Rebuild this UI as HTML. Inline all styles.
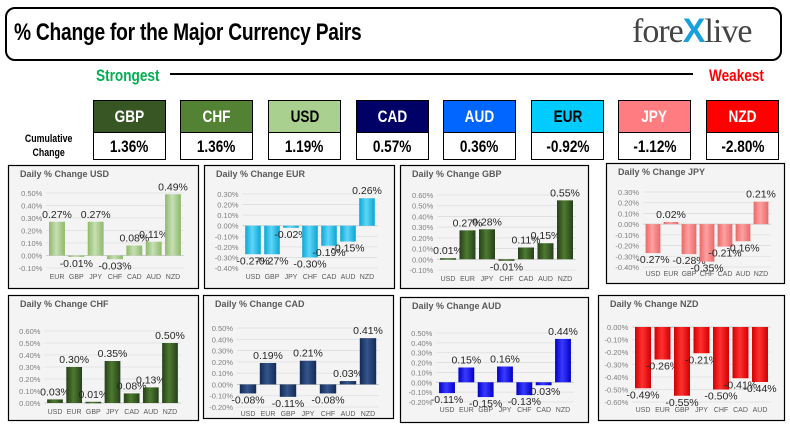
<!DOCTYPE html>
<html><head><meta charset="utf-8"><style>
body{margin:0;width:790px;height:434px;background:#fff;overflow:hidden;font-family:"Liberation Sans",sans-serif;position:relative}
.abs{position:absolute}
.hdr{left:5px;top:7px;width:773px;height:50px;border:2px solid #000;border-radius:10px}
.title{left:14px;top:19px;font-weight:bold;font-size:24px;transform:scaleX(0.8);transform-origin:left;white-space:nowrap;letter-spacing:-0.3px}
.logo{left:632px;top:12px;font-family:"Liberation Serif",serif;font-size:34px;color:#444;letter-spacing:-1px}
.cur{width:73px;height:60px;border:1px solid #000;box-sizing:border-box}
.cur .h{height:31px;line-height:31px;text-align:center;font-weight:bold;font-size:17px;border-bottom:1px solid #000}
.cur .v{height:28px;line-height:28px;text-align:center;font-weight:bold;font-size:17px;color:#000}
.cond{transform:scaleX(0.8);display:inline-block}
</style></head><body>
<div class="abs hdr"></div>
<div class="abs title">% Change for the Major Currency Pairs</div>
<div class="abs logo">fore<span style="color:#1aa0dc;font-family:'Liberation Sans',sans-serif;font-weight:bold">X</span>live</div>
<div class="abs" style="left:96px;top:66px;color:#00b050;font-weight:bold;font-size:17px"><span class="cond" style="transform-origin:left">Strongest</span></div>
<div class="abs" style="left:170px;top:73px;width:523px;height:2px;background:#000"></div>
<div class="abs" style="left:709px;top:66px;color:#ff0000;font-weight:bold;font-size:17px"><span class="cond" style="transform-origin:left">Weakest</span></div>
<div class="abs" style="left:18px;top:132px;width:62px;text-align:center;font-weight:bold;font-size:11px;line-height:14px"><span class="cond">Cumulative<br>Change</span></div>
<div id="curs"></div>
<svg id="charts" class="abs" style="left:0;top:0" width="790" height="434"></svg>
<script>
const curNames=["GBP","CHF","USD","CAD","AUD","EUR","JPY","NZD"];
const curValues=["1.36%","1.36%","1.19%","0.57%","0.36%","-0.92%","-1.12%","-2.80%"];
const curColors=["#375623","#548235","#a9d08e","#000066","#0066ff","#00ccff","#ff7c80","#ff0000"];
const curText=["#fff","#fff","#000","#fff","#fff","#000","#fff","#fff"];
const curX=[93,180,268,356,443,531,618,706];
const wrap=document.getElementById('curs');
curNames.forEach((n,i)=>{
 const d=document.createElement('div');
 d.className='abs cur';d.style.left=curX[i]+'px';d.style.top='100px';
 
 
 d.innerHTML='<div class="h" style="background:'+curColors[i]+';color:'+curText[i]+'"><span class="cond">'+n+'</span></div><div class="v"><span class="cond">'+curValues[i]+'</span></div>';
 wrap.appendChild(d);
});

const usdCats=["EUR","GBP","JPY","CHF","CAD","AUD","NZD"];
const usdVals=[0.27,-0.01,0.27,-0.03,0.08,0.11,0.49];
const eurCats=["USD","GBP","JPY","CHF","CAD","AUD","NZD"];
const eurVals=[-0.27,-0.27,-0.02,-0.30,-0.19,-0.15,0.26];
const gbpCats=["USD","EUR","JPY","CHF","CAD","AUD","NZD"];
const gbpVals=[0.01,0.27,0.28,-0.01,0.11,0.15,0.55];
const jpyCats=["USD","EUR","GBP","CHF","CAD","AUD","NZD"];
const jpyVals=[-0.27,0.02,-0.28,-0.35,-0.21,-0.16,0.21];
const chfCats=["USD","EUR","GBP","JPY","CAD","AUD","NZD"];
const chfVals=[0.03,0.30,0.01,0.35,0.08,0.13,0.50];
const cadCats=["USD","EUR","GBP","JPY","CHF","AUD","NZD"];
const cadVals=[-0.08,0.19,-0.11,0.21,-0.08,0.03,0.41];
const audCats=["USD","EUR","GBP","JPY","CHF","CAD","NZD"];
const audVals=[-0.11,0.15,-0.15,0.16,-0.13,-0.03,0.44];
const nzdCats=["USD","EUR","GBP","JPY","CHF","CAD","AUD"];
const nzdVals=[-0.49,-0.26,-0.55,-0.21,-0.50,-0.41,-0.44];
const usdTicks=[0.5,0.4,0.3,0.2,0.1,0,-0.1];
const eurTicks=[0.3,0.2,0.1,0,-0.1,-0.2,-0.3,-0.4];
const gbpTicks=[0.6,0.5,0.4,0.3,0.2,0.1,0,-0.1];
const jpyTicks=[0.3,0.2,0.1,0,-0.1,-0.2,-0.3,-0.4];
const chfTicks=[0.6,0.5,0.4,0.3,0.2,0.1,0];
const cadTicks=[0.5,0.4,0.3,0.2,0.1,0,-0.1,-0.2];
const audTicks=[0.5,0.4,0.3,0.2,0.1,0,-0.1,-0.2];
const nzdTicks=[0,-0.1,-0.2,-0.3,-0.4,-0.5,-0.6];

const panels=[
 {n:"USD",cats:usdCats,vals:usdVals,ticks:usdTicks,box:[8,165,190,123],yTop:193,yBot:268,x0:57,x1:173,catY:279,c1:"#c6e0b4",c2:"#8fb86a"},
 {n:"EUR",cats:eurCats,vals:eurVals,ticks:eurTicks,box:[204,165,190,123],yTop:194,yBot:268,x0:253,x1:367,catY:279,c1:"#5fd6f7",c2:"#0aa6d6"},
 {n:"GBP",cats:gbpCats,vals:gbpVals,ticks:gbpTicks,box:[400,165,188,123],yTop:195,yBot:270,x0:448,x1:565,catY:281,c1:"#4d7a30",c2:"#26401a"},
 {n:"JPY",cats:jpyCats,vals:jpyVals,ticks:jpyTicks,box:[606,163,178,120],yTop:192,yBot:267,x0:653,x1:761,catY:276,c1:"#ffa0a0",c2:"#e86a6a"},
 {n:"CHF",cats:chfCats,vals:chfVals,ticks:chfTicks,box:[8,295,190,125],yTop:331,yBot:403,x0:55,x1:170,catY:414,c1:"#4d7a30",c2:"#26401a"},
 {n:"CAD",cats:cadCats,vals:cadVals,ticks:cadTicks,box:[203,295,190,123],yTop:328,yBot:407,x0:248,x1:368,catY:416,c1:"#34558c",c2:"#132a55"},
 {n:"AUD",cats:audCats,vals:audVals,ticks:audTicks,box:[400,297,188,125],yTop:333,yBot:402,x0:447,x1:563,catY:412,c1:"#3a3aff",c2:"#0000c8"},
 {n:"NZD",cats:nzdCats,vals:nzdVals,ticks:nzdTicks,box:[598,295,186,125],yTop:327,yBot:402,x0:643,x1:760,catY:412,c1:"#ff3030",c2:"#d00000"}
];
const svg=document.getElementById('charts');
const NS="http://www.w3.org/2000/svg";
function mk(tag,attrs,parent){const e=document.createElementNS(NS,tag);for(const k in attrs)e.setAttribute(k,attrs[k]);parent.appendChild(e);return e;}
const defs=mk('defs',{},svg);
panels.forEach((p,pi)=>{
 const g=mk('g',{},svg);
 
 
 const gr=mk('linearGradient',{id:'gr'+pi,x1:0,x2:1,y1:0,y2:0},defs);
 mk('stop',{offset:'0','stop-color':p.c2},gr);mk('stop',{offset:'0.45','stop-color':p.c1},gr);mk('stop',{offset:'1','stop-color':p.c2},gr);
 const [bx,by,bw,bh]=p.box;
 const bg=mk('rect',{x:bx+0.5,y:by+0.5,width:bw,height:bh,fill:'#f4f4f4',stroke:'#000','stroke-width':1.2},g);
 
 
 const t=mk('text',{x:bx+12,y:by+12,'font-size':9,'font-weight':'bold',fill:'#595959'},g);
 t.textContent='Daily % Change '+p.n;
 
 
 const tMax=Math.max(...p.ticks),tMin=Math.min(...p.ticks);
 const yS=v=>p.yTop+(tMax-v)/(tMax-tMin)*(p.yBot-p.yTop);
 const n=p.cats.length, step=(p.x1-p.x0)/(n-1);
 const xS=i=>p.x0+i*step;
 const gx0=p.x0-step*0.55, gx1=p.x1+step*0.55;
 p.ticks.forEach(v=>{
  const y=yS(v);
  const gl=mk('line',{x1:gx0,x2:gx1,y1:y,y2:y,stroke:v===0?'#bfbfbf':'#dedede','stroke-width':0.8},g);
  
  
  const tl=mk('text',{x:gx0-4,y:y+3,'font-size':7.5,fill:'#7f7f7f','text-anchor':'end'},g);
  tl.textContent=v.toFixed(2)+'%';
  
  
 });
 const bw2=step*0.82;
 p.vals.forEach((v,i)=>{
  const y0=yS(0),y1=yS(v);
  const top=Math.min(y0,y1),h=Math.max(Math.abs(y1-y0),1.5);
  const r=mk('rect',{x:xS(i)-bw2/2,y:top,width:bw2,height:h,fill:'url(#gr'+pi+')'},g);
  
  
  const ly=v>=0?y1-4:y1+10;
  const lb=mk('text',{x:xS(i),y:ly,'font-size':10.5,fill:'#262626','text-anchor':'middle'},g);
  lb.textContent=v.toFixed(2)+'%';
  
  
  const cl=mk('text',{x:xS(i),y:p.catY,'font-size':7,fill:'#595959','text-anchor':'middle'},g);
  cl.textContent=p.cats[i];
  
  
 });
});
</script>
</body></html>
